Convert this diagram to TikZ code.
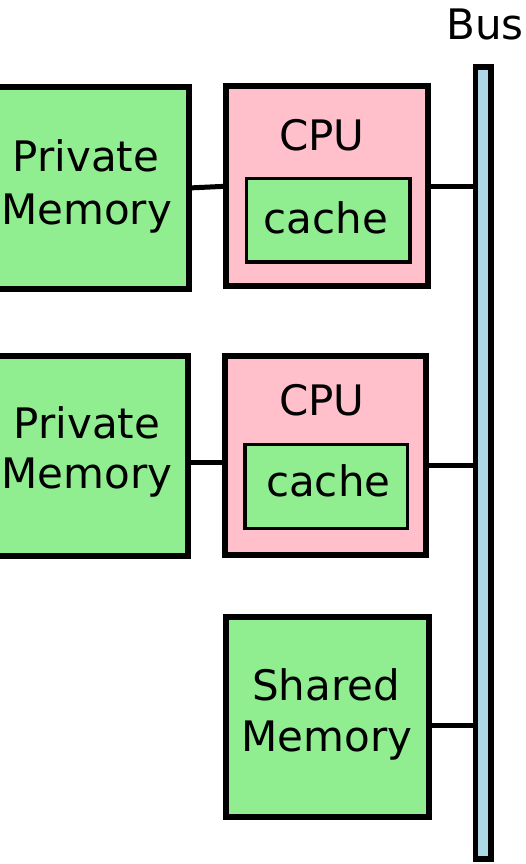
\documentclass[tikz,border=0pt]{standalone}
\usepackage{fontspec}
\setmainfont{DejaVu Sans}
\definecolor{memgreen}{RGB}{144,238,144}
\definecolor{cpupink}{RGB}{255,192,203}
\definecolor{busblue}{RGB}{173,216,230}
\begin{document}
\begin{tikzpicture}[x=1pt,y=1pt,
  block/.style={draw=black,rectangle,inner sep=0pt,outer sep=0pt,anchor=north west},
  membox/.style={block,line width=6pt,fill=memgreen},
  cpubox/.style={block,line width=6pt,fill=cpupink},
  cachebox/.style={block,line width=3.5pt,fill=memgreen},
  busbar/.style={block,line width=5.5pt,fill=busblue},
  wire/.style={draw=black,line width=5pt},
  lbl/.style={anchor=base,inner sep=0pt,font=\fontsize{42}{50}\selectfont}]
\useasboundingbox (0,0) rectangle (526,-864);

% system bus
\node[busbar,minimum width=15.5,minimum height=792] (bus) at (475.5,-67) {};
\node[lbl] (buslbl) at (485,-40) {Bus};

% first processor with its private memory
\node[membox,minimum width=208.5,minimum height=201] (pm1) at (-20,-87.5) {};
\node[cpubox,minimum width=201.5,minimum height=199.5] (cpu1) at (226,-86.5) {};
\node[cachebox,minimum width=163.3,minimum height=83.3] (cache1) at (246.7,-178.7) {};
\node[lbl] (pm1a) at (86,-171.7) {Private};
\node[lbl] (pm1b) at (86.5,-224) {Memory};
\node[lbl] (cpu1lbl) at (322,-150) {CPU};
\node[lbl] (cache1lbl) at (326,-233) {cache};

% second processor with its private memory
\node[membox,minimum width=208,minimum height=200.3] (pm2) at (-20,-356) {};
\node[cpubox,minimum width=200.8,minimum height=199.8] (cpu2) at (224.7,-355.5) {};
\node[cachebox,minimum width=162.7,minimum height=84] (cache2) at (245,-444.7) {};
\node[lbl] (pm2a) at (87,-438.3) {Private};
\node[lbl] (pm2b) at (87,-488.3) {Memory};
\node[lbl] (cpu2lbl) at (321.7,-415) {CPU};
\node[lbl] (cache2lbl) at (328.3,-496.7) {cache};

% shared memory
\node[membox,minimum width=202.2,minimum height=200] (sm) at (226.3,-617) {};
\node[lbl] (sma) at (326,-700) {Shared};
\node[lbl] (smb) at (327,-751.7) {Memory};

% connections
\draw[wire] (pm1.east) -- (cpu1.west);
\draw[wire] (cpu1.east) -- (cpu1.east -| bus.west);
\coordinate (j2) at ([yshift=-6.3pt]pm2.east);
\draw[wire] (j2) -- (j2 -| cpu2.west);
\coordinate (k2) at ([yshift=-9.6pt]cpu2.east);
\draw[wire] (k2) -- (k2 -| bus.west);
\coordinate (k3) at ([yshift=-8.7pt]sm.east);
\draw[wire] (k3) -- (k3 -| bus.west);
\end{tikzpicture}
\end{document}
